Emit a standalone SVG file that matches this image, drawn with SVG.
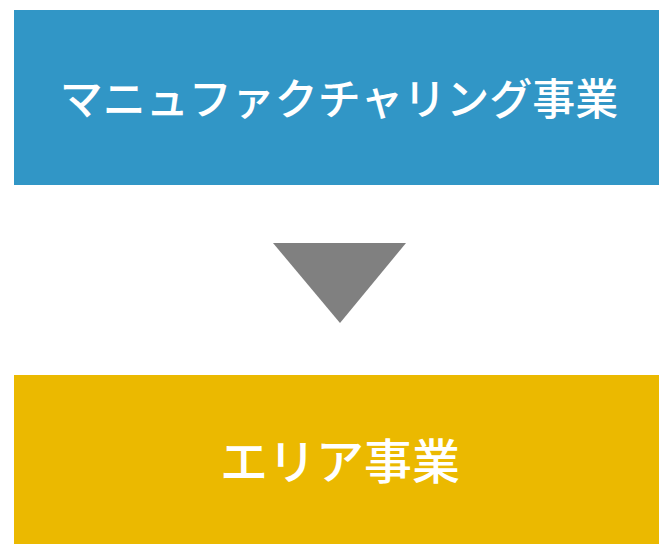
<svg xmlns="http://www.w3.org/2000/svg" width="659" height="544" viewBox="0 0 659 544">
<style>
.lbl{font-family:"Noto Sans CJK JP","Noto Sans",sans-serif;font-weight:500;fill:#ffffff;text-anchor:middle;dominant-baseline:central}
</style>
<rect width="659" height="544" fill="#ffffff"/>
<g id="node-manufacturing">
<rect x="14" y="10" width="645" height="175" fill="#3196C6"/>
<text class="lbl" x="339" y="95.5" font-size="43">マニュファクチャリング事業</text>
</g>
<g id="connectors">
<polygon points="273,243 406,243 340,323" fill="#808080"/>
</g>
<g id="node-area">
<rect x="14" y="375" width="645" height="169" fill="#EBB900"/>
<text class="lbl" x="340" y="457.5" font-size="48">エリア事業</text>
</g>
</svg>
